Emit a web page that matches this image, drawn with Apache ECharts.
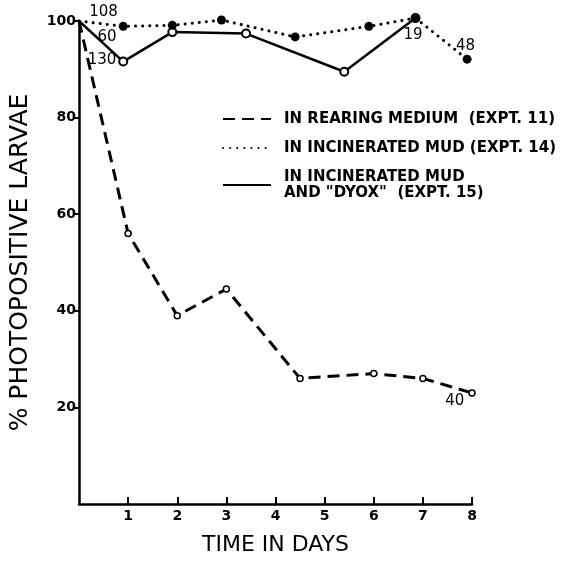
<!DOCTYPE html>
<html>
<head>
<meta charset="utf-8">
<script src="https://cdn.jsdelivr.net/npm/echarts@6/dist/echarts.min.js"></script>
<style>
  html, body { margin: 0; padding: 0; background: #fff; }
  #chart { width: 575px; height: 561px; }
</style>
</head>
<body>
<div id="chart"></div>
<script>
// values
const rearingDays = [0, 1, 2, 3, 4.5, 6, 7, 8];
const rearingPct = [100, 56, 39, 44.5, 26, 27, 26, 23];
const mudDays = [0, 0.9, 1.9, 2.9, 4.4, 5.9, 6.85, 7.9];
const mudPct = [100, 98.9, 99.1, 100.2, 96.7, 98.9, 100.6, 92.1];
const dyoxDays = [0, 0.9, 1.9, 3.4, 5.4, 6.85];
const dyoxPct = [100, 91.6, 97.7, 97.4, 89.5, 100.6];

const seriesNames = [
    'IN REARING MEDIUM  (EXPT. 11)',
    'IN INCINERATED MUD (EXPT. 14)',
    'IN INCINERATED MUD\nAND "DYOX"  (EXPT. 15)'
];

// sample sizes written beside the curves: [day, pct, text]
const mudNotes = [[0.5, 101.8, '108'], [7.87, 94.7, '48']];
const dyoxNotes = [[0.57, 96.7, '60'], [0.47, 92, '130'], [6.8, 97.1, '19']];
const rearingNotes = [[7.65, 21.4, '40']];

const dayTicks = [1, 2, 3, 4, 5, 6, 7, 8];
const pctTicks = [20, 40, 60, 80, 100];

const font = 'DejaVu Sans';
const pxPerPct = 4.86;

const toPoints = function (days, pct) {
    return days.map(function (d, i) {
        const p = { value: [d, pct[i]] };
        if (i === 0) {
            p.symbol = 'none';
        }
        return p;
    });
};

// markPoint drops coords outside the grid, so notes above 100 are pinned to 100 and shifted up
const toNotes = function (notes) {
    return {
        symbol: 'circle',
        symbolSize: 0,
        silent: true,
        label: {
            show: true,
            position: 'inside',
            color: '#000',
            fontFamily: font,
            fontSize: 15,
            formatter: function (p) { return p.name; }
        },
        data: notes.map(function (n) {
            const over = Math.max(0, n[1] - 100);
            return {
                name: n[2],
                coord: [n[0], n[1] - over],
                label: { offset: [0, -over * pxPerPct] }
            };
        })
    };
};

const chart = echarts.init(document.getElementById('chart'));
chart.setOption({
    animation: false,
    backgroundColor: '#fff',
    grid: {
        left: 77,
        right: 103,
        top: 21,
        bottom: 54
    },
    legend: {
        orient: 'vertical',
        left: 217,
        top: 106,
        itemWidth: 48,
        itemHeight: 14,
        itemGap: 13,
        itemStyle: { opacity: 0 },
        selectedMode: false,
        textStyle: {
            color: '#000',
            fontFamily: font,
            fontWeight: 'bold',
            fontSize: 15,
            lineHeight: 16,
            padding: [0, 0, 0, 8]
        },
        data: seriesNames
    },
    xAxis: {
        type: 'value',
        min: 0,
        max: 8,
        interval: 1,
        name: 'TIME IN DAYS',
        nameLocation: 'middle',
        nameGap: 30,
        nameTextStyle: {
            color: '#000',
            fontFamily: font,
            fontSize: 22
        },
        splitLine: { show: false },
        axisLine: { lineStyle: { color: '#000', width: 2.5 } },
        axisTick: {
            inside: true,
            length: 7,
            customValues: dayTicks,
            lineStyle: { color: '#000', width: 2 }
        },
        axisLabel: {
            color: '#000',
            fontFamily: font,
            fontWeight: 'bold',
            fontSize: 14,
            margin: 5,
            customValues: dayTicks
        }
    },
    yAxis: {
        type: 'value',
        min: 0,
        max: 100,
        interval: 20,
        name: '% PHOTOPOSITIVE LARVAE',
        nameLocation: 'middle',
        nameGap: 46,
        nameTextStyle: {
            color: '#000',
            fontFamily: font,
            fontSize: 25
        },
        splitLine: { show: false },
        axisLine: { lineStyle: { color: '#000', width: 2.5 } },
        axisTick: {
            length: 6,
            customValues: pctTicks,
            lineStyle: { color: '#000', width: 2 }
        },
        axisLabel: {
            color: '#000',
            fontFamily: font,
            fontWeight: 'bold',
            fontSize: 14,
            margin: 3,
            customValues: pctTicks
        }
    },
    series: [
        {
            name: seriesNames[0],
            type: 'line',
            clip: false,
            data: toPoints(rearingDays, rearingPct),
            symbol: 'circle',
            symbolSize: 6,
            itemStyle: { color: '#fff', borderColor: '#000', borderWidth: 1.5 },
            lineStyle: { color: '#000', width: 3, type: [12, 7] },
            markPoint: toNotes(rearingNotes),
            z: 2
        },
        {
            name: seriesNames[1],
            type: 'line',
            clip: false,
            data: toPoints(mudDays, mudPct),
            symbol: 'circle',
            symbolSize: 9,
            itemStyle: { color: '#000', borderColor: '#000', borderWidth: 0 },
            lineStyle: { color: '#000', width: 3, type: [0.1, 7], cap: 'round' },
            markPoint: toNotes(mudNotes),
            z: 4
        },
        {
            name: seriesNames[2],
            type: 'line',
            clip: false,
            data: toPoints(dyoxDays, dyoxPct),
            symbol: 'circle',
            symbolSize: 8,
            itemStyle: { color: '#fff', borderColor: '#000', borderWidth: 2 },
            lineStyle: { color: '#000', width: 2.5 },
            markPoint: toNotes(dyoxNotes),
            z: 3
        }
    ]
});

window.onresize = function () {
    chart.resize();
};
</script>
</body>
</html>
